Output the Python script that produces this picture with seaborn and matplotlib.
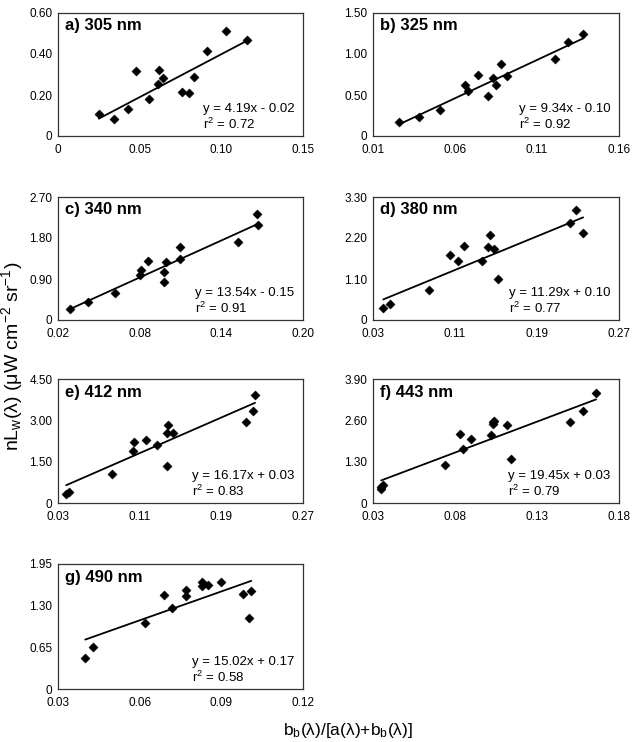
import numpy as np
import pandas as pd
import seaborn as sns
import matplotlib.pyplot as plt
from matplotlib.ticker import FixedLocator

# panel names
panel_labels = ["a) 305 nm", "b) 325 nm", "c) 340 nm", "d) 380 nm",
                "e) 412 nm", "f) 443 nm", "g) 490 nm"]

# points: x = bb/(a+bb), y = nLw
x_305 = [0.025, 0.034, 0.043, 0.048, 0.056, 0.061, 0.062, 0.064, 0.076, 0.080, 0.083, 0.091, 0.103, 0.116]
y_305 = [0.105, 0.083, 0.132, 0.315, 0.181, 0.255, 0.324, 0.284, 0.217, 0.208, 0.286, 0.417, 0.512, 0.469]

x_325 = [0.026, 0.038, 0.051, 0.066, 0.068, 0.074, 0.080, 0.083, 0.085, 0.088, 0.092, 0.121, 0.129, 0.138]
y_325 = [0.176, 0.229, 0.315, 0.621, 0.544, 0.744, 0.482, 0.703, 0.625, 0.875, 0.736, 0.940, 1.152, 1.242]

x_340 = [0.029, 0.042, 0.062, 0.080, 0.081, 0.086, 0.098, 0.098, 0.099, 0.110, 0.110, 0.152, 0.166, 0.167]
y_340 = [0.249, 0.404, 0.594, 0.990, 1.108, 1.306, 1.057, 0.836, 1.277, 1.343, 1.607, 1.717, 2.326, 2.084]

x_380 = [0.040, 0.047, 0.085, 0.105, 0.113, 0.119, 0.136, 0.142, 0.144, 0.148, 0.152, 0.222, 0.228, 0.235]
y_380 = [0.332, 0.422, 0.816, 1.740, 1.570, 1.991, 1.596, 1.964, 2.287, 1.901, 1.112, 2.601, 2.960, 2.341]

x_412 = [0.038, 0.041, 0.083, 0.103, 0.104, 0.116, 0.127, 0.137, 0.137, 0.138, 0.143, 0.214, 0.221, 0.223]
y_412 = [0.339, 0.411, 1.052, 1.887, 2.214, 2.298, 2.117, 1.343, 2.552, 2.818, 2.552, 2.939, 3.327, 3.931]

x_443 = [0.035, 0.035, 0.036, 0.074, 0.083, 0.085, 0.090, 0.102, 0.103, 0.103, 0.104, 0.112, 0.114, 0.150, 0.158, 0.166]
y_443 = [0.426, 0.499, 0.562, 1.186, 2.174, 1.685, 2.018, 2.153, 2.496, 2.538, 2.569, 2.465, 1.383, 2.548, 2.891, 3.463]

x_490 = [0.040, 0.043, 0.062, 0.069, 0.072, 0.077, 0.077, 0.083, 0.083, 0.085, 0.090, 0.098, 0.100, 0.101]
y_490 = [0.481, 0.659, 1.030, 1.474, 1.270, 1.542, 1.453, 1.673, 1.605, 1.626, 1.668, 1.485, 1.108, 1.526]

x_data = [x_305, x_325, x_340, x_380, x_412, x_443, x_490]
y_data = [y_305, y_325, y_340, y_380, y_412, y_443, y_490]

# regression equations printed on each panel
slopes = [4.19, 9.34, 13.54, 11.29, 16.17, 19.45, 15.02]
intercepts = [-0.02, -0.10, -0.15, 0.10, 0.03, 0.03, 0.17]
r2_values = [0.72, 0.92, 0.91, 0.77, 0.83, 0.79, 0.58]

# axis ticks
x_ticks = [[0, 0.05, 0.10, 0.15], [0.01, 0.06, 0.11, 0.16], [0.02, 0.08, 0.14, 0.20],
           [0.03, 0.11, 0.19, 0.27], [0.03, 0.11, 0.19, 0.27], [0.03, 0.08, 0.13, 0.18],
           [0.03, 0.06, 0.09, 0.12]]
x_ticklabels = [["0", "0.05", "0.10", "0.15"], ["0.01", "0.06", "0.11", "0.16"],
                ["0.02", "0.08", "0.14", "0.20"], ["0.03", "0.11", "0.19", "0.27"],
                ["0.03", "0.11", "0.19", "0.27"], ["0.03", "0.08", "0.13", "0.18"],
                ["0.03", "0.06", "0.09", "0.12"]]
y_ticks = [[0, 0.20, 0.40, 0.60], [0, 0.50, 1.00, 1.50], [0, 0.90, 1.80, 2.70],
           [0, 1.10, 2.20, 3.30], [0, 1.50, 3.00, 4.50], [0, 1.30, 2.60, 3.90],
           [0, 0.65, 1.30, 1.95]]
y_ticklabels = [["0", "0.20", "0.40", "0.60"], ["0", "0.50", "1.00", "1.50"],
                ["0", "0.90", "1.80", "2.70"], ["0", "1.10", "2.20", "3.30"],
                ["0", "1.50", "3.00", "4.50"], ["0", "1.30", "2.60", "3.90"],
                ["0", "0.65", "1.30", "1.95"]]

sns.set_style("white")
plt.rcParams['font.family'] = ['Liberation Sans', 'DejaVu Sans']
plt.rcParams['text.color'] = 'black'
plt.rcParams['xtick.color'] = 'black'
plt.rcParams['ytick.color'] = 'black'
plt.rcParams['mathtext.fontset'] = 'custom'
plt.rcParams['mathtext.rm'] = 'Liberation Sans'
plt.rcParams['mathtext.it'] = 'Liberation Sans:italic'
plt.rcParams['mathtext.default'] = 'regular'

W, H = 635, 742
fig = plt.figure(figsize=(W / 100, H / 100), dpi=100)

cols = [(58, 303), (373, 619)]
rows = [(13, 136), (197, 320), (379, 503), (564, 689)]

for i in range(7):
    (l, r) = cols[i % 2]
    (t, b) = rows[i // 2]
    ax = fig.add_axes([l / W, 1 - b / H, (r - l) / W, (b - t) / H])

    df = pd.DataFrame({"x": x_data[i], "y": y_data[i]})
    sns.scatterplot(data=df, x="x", y="y", marker="D", s=22, color="black",
                    edgecolor="black", linewidth=0.3, ax=ax, zorder=3)

    xs = np.array([min(x_data[i]), max(x_data[i])])
    fit = pd.DataFrame({"x": xs, "y": slopes[i] * xs + intercepts[i]})
    sns.lineplot(data=fit, x="x", y="y", color="black", linewidth=1.3, ax=ax)

    ax.set_xlim(x_ticks[i][0], x_ticks[i][-1])
    ax.set_ylim(y_ticks[i][0], y_ticks[i][-1])
    ax.set_xticks(x_ticks[i])
    ax.set_xticklabels(x_ticklabels[i])
    ax.set_yticks(y_ticks[i])
    ax.set_yticklabels(y_ticklabels[i])
    xt, yt = x_ticks[i], y_ticks[i]
    ax.xaxis.set_minor_locator(FixedLocator([(xt[k] + xt[k + 1]) / 2 for k in range(3)]))
    ax.yaxis.set_minor_locator(FixedLocator([(yt[k] + yt[k + 1]) / 2 for k in range(3)]))
    ax.tick_params(which="both", direction="in", length=3, width=0.8, color="#333333",
                   labelsize=8.5)
    ax.tick_params(axis="x", pad=6)
    ax.tick_params(axis="y", pad=4)
    ax.set_xlabel("")
    ax.set_ylabel("")
    for sp in ax.spines.values():
        sp.set_color("#333333")
        sp.set_linewidth(0.9)

    ax.text(0.03, 0.895, panel_labels[i], transform=ax.transAxes, fontsize=12,
            fontweight="bold", ha="left", va="center")
    sign = "-" if intercepts[i] < 0 else "+"
    eq = f"y = {slopes[i]:.2f}x {sign} {abs(intercepts[i]):.2f}\nr$^2$ = {r2_values[i]:.2f}"
    ax.text(0.965, 0.03, eq, transform=ax.transAxes, fontsize=9.5, ha="right",
            va="bottom", multialignment="left", linespacing=1.2)

fig.text(12 / W, 1 - 356 / H, "nL$_w$(λ) (μW cm$^{-2}$ sr$^{-1}$)", rotation=90,
         ha="center", va="center", fontsize=14)
fig.text(348 / W, 1 - 731 / H, "b$_b$(λ)/[a(λ)+b$_b$(λ)]", ha="center", va="center",
         fontsize=12.5)

plt.savefig("out.png", dpi=100)
